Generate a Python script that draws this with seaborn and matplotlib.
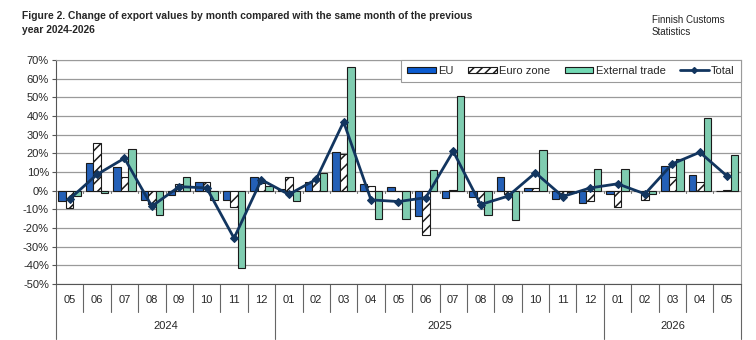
import numpy as np
import pandas as pd
import seaborn as sns
import matplotlib.pyplot as plt
from matplotlib.patches import Patch
from matplotlib.lines import Line2D

# data (% change vs same month previous year)
months = ["05", "06", "07", "08", "09", "10", "11", "12",
          "01", "02", "03", "04", "05", "06", "07", "08", "09", "10", "11", "12",
          "01", "02", "03", "04", "05"]
years = ["2024"] * 8 + ["2025"] * 12 + ["2026"] * 5
eu = [-5.7, 14.6, 12.5, -4.8, -2.3, 4.6, -5.0, 7.5,
      0.6, 4.5, 20.9, 3.6, 1.8, -13.6, -4.1, -3.6, 7.1, 1.4, -4.5, -6.8,
      -1.8, -0.5, 12.9, 8.4, -0.4]
euro_zone = [-9.5, 25.4, 7.5, -7.0, 3.6, 4.6, -8.9, 4.0,
             7.1, 5.4, 19.6, 2.3, -0.3, -23.8, 0.5, -6.0, -1.8, 1.4, -2.0, -5.7,
             -8.9, -4.8, 7.1, 4.6, 0.3]
external = [-3.0, -1.4, 22.3, -12.9, 7.1, -4.8, -41.6, 2.5,
            -5.5, 9.6, 66.0, -15.2, -15.2, 11.1, 50.9, -12.9, -16.0, 21.8, -1.0, 11.4,
            11.4, -2.0, 17.0, 38.9, 19.1]
total = [-4.5, 8.6, 17.3, -8.4, 2.1, 1.4, -25.5, 5.8,
         -2.1, 6.0, 36.8, -5.0, -5.9, -3.8, 21.0, -7.5, -3.0, 9.5, -3.2, 1.4,
         3.6, -1.8, 14.3, 20.5, 7.7]

series = ["EU", "Euro zone", "External trade"]
colors = ["#0B5BD0", "#FFFFFF", "#72D9B4"]
line_color = "#12355F"

keys = [y + "-" + m for y, m in zip(years, months)]
df = pd.DataFrame({"key": keys, "EU": eu, "Euro zone": euro_zone,
                   "External trade": external})
df = df.melt(id_vars="key", var_name="series", value_name="value")

sns.set_style("white")
plt.rcParams['font.family'] = ['Liberation Sans', 'DejaVu Sans']
plt.rcParams['hatch.linewidth'] = 1.1

fig = plt.figure(figsize=(7.56, 3.4), dpi=100)
ax = fig.add_axes([0.074, 0.165, 0.906, 0.659])

sns.barplot(data=df, x="key", y="value", hue="series", order=keys,
            hue_order=series, palette=colors, width=0.82, ax=ax,
            edgecolor="#1a1a1a", linewidth=0.8, legend=False)
for p in ax.containers[1]:
    p.set_hatch("///")
    p.set_facecolor("white")

sns.lineplot(x=np.arange(len(total)), y=total, ax=ax, color=line_color,
             linewidth=2, marker="D", markersize=4, markeredgecolor=line_color)

ax.set_ylim(-50, 70)
ax.set_xlim(-0.5, len(keys) - 0.5)
ax.set_yticks(np.arange(-50, 71, 10))
ax.set_yticklabels([f"{v}%" for v in range(-50, 71, 10)], fontsize=8)
ax.yaxis.grid(True, color="#9a9a9a", linewidth=0.9)
ax.set_axisbelow(True)
ax.tick_params(axis="y", length=3, width=0.8, color="#555555", pad=2, left=True)
ax.set_xlabel("")
ax.set_ylabel("")

ax.set_xticks(np.arange(len(keys)))
ax.set_xticklabels(months, fontsize=8)
ax.tick_params(axis="x", length=0, pad=8)

for side in ["top", "right"]:
    ax.spines[side].set_color("#9a9a9a")
for side in ["left", "bottom"]:
    ax.spines[side].set_color("#555555")
    ax.spines[side].set_linewidth(0.8)

# small category ticks on the zero line
for i in range(1, len(keys)):
    ax.plot([i - 0.5, i - 0.5], [0, -1.3], color="#777777", linewidth=0.8,
            zorder=1)

# category separators below the axis
tr = ax.get_xaxis_transform()
year_bounds = [0, 8, 20, 25]
for i in range(len(keys) + 1):
    depth = -0.245 if i in year_bounds else -0.125
    ax.plot([i - 0.5, i - 0.5], [0, depth], transform=tr, color="#666666",
            linewidth=0.8, clip_on=False)
for y0, y1, lab in [(0, 8, "2024"), (8, 20, "2025"), (20, 25, "2026")]:
    ax.text((y0 + y1 - 1) / 2, -0.19, lab, transform=tr, ha="center",
            va="center", fontsize=8)

handles = [Patch(facecolor=colors[0], edgecolor="#1a1a1a", linewidth=0.8),
           Patch(facecolor="white", edgecolor="#1a1a1a", hatch="////", linewidth=0.8),
           Patch(facecolor=colors[2], edgecolor="#1a1a1a", linewidth=0.8),
           Line2D([0], [0], color=line_color, linewidth=2, marker="D", markersize=3)]
leg = ax.legend(handles, ["EU", "Euro zone", "External trade", "Total"], ncol=4,
                loc="upper right", bbox_to_anchor=(1.0, 1.0), fontsize=8,
                frameon=True, fancybox=False, borderaxespad=0,
                handlelength=2.6, handleheight=0.5, handletextpad=0.2,
                columnspacing=1.3, borderpad=0.55)
leg.get_frame().set_edgecolor("#9a9a9a")
leg.get_frame().set_linewidth(0.8)
leg.get_frame().set_alpha(1)

fig.text(0.029, 0.967, "Figure 2. Change of export values by month compared with the same month of the previous\nyear 2024-2026",
         ha="left", va="top", fontsize=7.4, fontweight="bold", linespacing=1.45)
fig.text(0.862, 0.955, "Finnish Customs\nStatistics", ha="left", va="top",
         fontsize=7, color="#222222")

fig.savefig("out.png", dpi=100)
